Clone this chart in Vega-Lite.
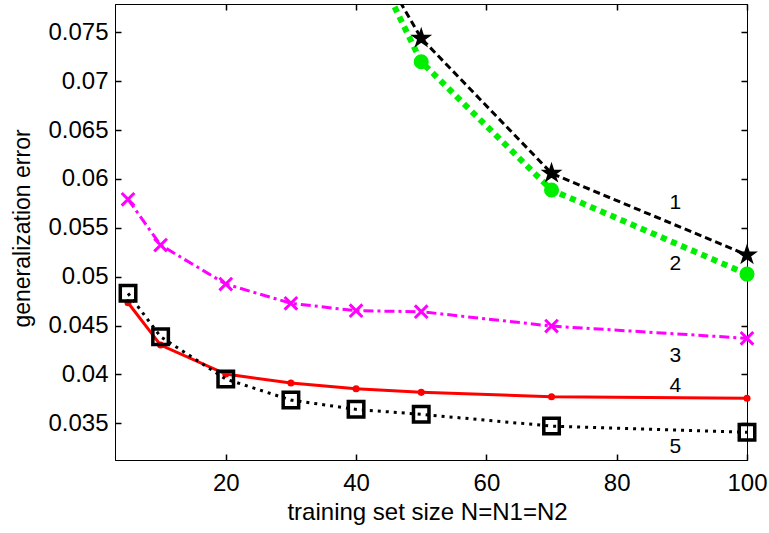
{
  "$schema": "https://vega.github.io/schema/vega-lite/v6.json",
  "width": 632,
  "height": 456,
  "autosize": {"type": "none"},
  "padding": {"left": 115, "top": 4, "right": 22, "bottom": 73},
  "background": "white",
  "config": {
    "view": {"stroke": "black", "strokeWidth": 1},
    "axis": {
      "domainColor": "black",
      "labelColor": "black",
      "labelFont": "Liberation Sans",
      "labelFontSize": 24,
      "labelFlush": false,
      "labelOverlap": false,
      "titleColor": "black",
      "titleFont": "Liberation Sans",
      "titleFontWeight": "normal"
    }
  },
  "datasets": {
    "curves": [
      {"s": "1", "x": 40, "y": 0.0859},
      {"s": "1", "x": 50, "y": 0.07439},
      {"s": "1", "x": 70, "y": 0.06058},
      {"s": "1", "x": 100, "y": 0.05222},
      {"s": "2", "x": 40, "y": 0.0857},
      {"s": "2", "x": 50, "y": 0.07199},
      {"s": "2", "x": 70, "y": 0.05887},
      {"s": "2", "x": 100, "y": 0.05027},
      {"s": "3", "x": 5, "y": 0.05792},
      {"s": "3", "x": 10, "y": 0.05324},
      {"s": "3", "x": 20, "y": 0.04925},
      {"s": "3", "x": 30, "y": 0.04728},
      {"s": "3", "x": 40, "y": 0.04652},
      {"s": "3", "x": 50, "y": 0.04642},
      {"s": "3", "x": 70, "y": 0.04495},
      {"s": "3", "x": 100, "y": 0.0437},
      {"s": "4", "x": 5, "y": 0.04734},
      {"s": "4", "x": 10, "y": 0.04301},
      {"s": "4", "x": 20, "y": 0.04004},
      {"s": "4", "x": 30, "y": 0.03912},
      {"s": "4", "x": 40, "y": 0.03854},
      {"s": "4", "x": 50, "y": 0.03817},
      {"s": "4", "x": 70, "y": 0.03772},
      {"s": "4", "x": 100, "y": 0.03756},
      {"s": "5", "x": 5, "y": 0.0483},
      {"s": "5", "x": 10, "y": 0.04386},
      {"s": "5", "x": 20, "y": 0.03953},
      {"s": "5", "x": 30, "y": 0.03738},
      {"s": "5", "x": 40, "y": 0.03643},
      {"s": "5", "x": 50, "y": 0.03592},
      {"s": "5", "x": 70, "y": 0.03472},
      {"s": "5", "x": 100, "y": 0.03408}
    ],
    "labels": [
      {"x": 89, "y": 0.05754, "t": "1"},
      {"x": 89, "y": 0.05135, "t": "2"},
      {"x": 89, "y": 0.04191, "t": "3"},
      {"x": 89, "y": 0.03882, "t": "4"},
      {"x": 89, "y": 0.03261, "t": "5"}
    ]
  },
  "data": {"name": "curves"},
  "layer": [
    {
      "transform": [{"filter": "datum.s === '2'"}],
      "mark": {"type": "line", "clip": true, "color": "#00ee00", "strokeWidth": 6, "strokeDash": [6, 5], "strokeCap": "butt"},
      "encoding": {
        "x": {"field": "x", "type": "quantitative", "scale": {"domain": [3, 100], "nice": false, "zero": false},
          "axis": {"orient": "bottom", "values": [20, 40, 60, 80, 100], "ticks": false, "grid": true, "gridColor": "black", "gridOpacity": 1, "gridWidth": 1.5, "gridDash": [6, 3000], "labelPadding": 11, "title": "training set size N=N1=N2", "titleFontSize": 24, "titleBaseline": "alphabetic", "titleY": 59, "titleX": 312}},
        "y": {"field": "y", "type": "quantitative", "scale": {"domain": [0.03125, 0.0779], "nice": false, "zero": false},
          "axis": {"orient": "left", "values": [0.035, 0.04, 0.045, 0.05, 0.055, 0.06, 0.065, 0.07, 0.075], "ticks": false, "grid": true, "gridColor": "black", "gridOpacity": 1, "gridWidth": 1.5, "gridDash": [6, 3000], "format": ".3~f", "labelPadding": 7, "title": "generalization error", "titleFontSize": 23, "titleBaseline": "alphabetic", "titleX": -85.5, "titleY": 224}}
      }
    },
    {
      "transform": [{"filter": "datum.s === '2' && datum.x > 40"}],
      "mark": {"type": "point", "clip": false, "shape": "circle", "filled": true, "color": "#00ee00", "size": 227, "opacity": 1},
      "encoding": {
        "x": {"field": "x", "type": "quantitative", "axis": {"orient": "top", "values": [20, 40, 60, 80, 100], "ticks": false, "grid": true, "gridColor": "black", "gridOpacity": 1, "gridWidth": 1.5, "gridDash": [6, 3000], "labels": false, "title": null}},
        "y": {"field": "y", "type": "quantitative", "axis": {"orient": "right", "values": [0.035, 0.04, 0.045, 0.05, 0.055, 0.06, 0.065, 0.07, 0.075], "ticks": false, "grid": true, "gridColor": "black", "gridOpacity": 1, "gridWidth": 1.5, "gridDash": [6, 3000], "labels": false, "title": null}}
      }
    },
    {
      "transform": [{"filter": "datum.s === '1'"}],
      "mark": {"type": "line", "clip": true, "color": "black", "strokeWidth": 3, "strokeDash": [7, 4]},
      "encoding": {
        "x": {"field": "x", "type": "quantitative", "axis": null},
        "y": {"field": "y", "type": "quantitative", "axis": null}
      }
    },
    {
      "transform": [{"filter": "datum.s === '1' && datum.x > 40"}],
      "mark": {"type": "point", "clip": false, "shape": "M0,-1L0.2245,-0.309L0.951,-0.309L0.363,0.118L0.588,0.809L0,0.382L-0.588,0.809L-0.363,0.118L-0.951,-0.309L-0.2245,-0.309Z", "filled": true, "fill": "black", "stroke": "black", "strokeWidth": 1.5, "size": 330, "opacity": 1},
      "encoding": {
        "x": {"field": "x", "type": "quantitative", "axis": null},
        "y": {"field": "y", "type": "quantitative", "axis": null}
      }
    },
    {
      "transform": [{"filter": "datum.s === '3'"}],
      "mark": {"type": "line", "clip": true, "color": "#ff00ff", "strokeWidth": 3, "strokeDash": [10, 4, 3, 4]},
      "encoding": {
        "x": {"field": "x", "type": "quantitative", "axis": null},
        "y": {"field": "y", "type": "quantitative", "axis": null}
      }
    },
    {
      "transform": [{"filter": "datum.s === '3'"}],
      "mark": {"type": "point", "clip": false, "shape": "M-1,-1L1,1M-1,1L1,-1", "filled": false, "stroke": "#ff00ff", "strokeWidth": 3, "size": 160, "opacity": 1},
      "encoding": {
        "x": {"field": "x", "type": "quantitative", "axis": null},
        "y": {"field": "y", "type": "quantitative", "axis": null}
      }
    },
    {
      "transform": [{"filter": "datum.s === '4'"}],
      "mark": {"type": "line", "clip": true, "color": "#ff0000", "strokeWidth": 3},
      "encoding": {
        "x": {"field": "x", "type": "quantitative", "axis": null},
        "y": {"field": "y", "type": "quantitative", "axis": null}
      }
    },
    {
      "transform": [{"filter": "datum.s === '4'"}],
      "mark": {"type": "point", "clip": false, "shape": "circle", "filled": true, "color": "#ff0000", "size": 50, "opacity": 1},
      "encoding": {
        "x": {"field": "x", "type": "quantitative", "axis": null},
        "y": {"field": "y", "type": "quantitative", "axis": null}
      }
    },
    {
      "transform": [{"filter": "datum.s === '5'"}],
      "mark": {"type": "line", "clip": true, "color": "black", "strokeWidth": 3, "strokeDash": [3, 5]},
      "encoding": {
        "x": {"field": "x", "type": "quantitative", "axis": null},
        "y": {"field": "y", "type": "quantitative", "axis": null}
      }
    },
    {
      "transform": [{"filter": "datum.s === '5'"}],
      "mark": {"type": "point", "clip": false, "shape": "square", "filled": false, "stroke": "black", "strokeWidth": 3.5, "size": 240, "opacity": 1},
      "encoding": {
        "x": {"field": "x", "type": "quantitative", "axis": null},
        "y": {"field": "y", "type": "quantitative", "axis": null}
      }
    },
    {
      "data": {"name": "labels"},
      "mark": {"type": "text", "font": "Liberation Sans", "fontSize": 21, "color": "black", "align": "center", "baseline": "middle"},
      "encoding": {
        "x": {"field": "x", "type": "quantitative", "axis": null},
        "y": {"field": "y", "type": "quantitative", "axis": null},
        "text": {"field": "t", "type": "nominal"}
      }
    }
  ],
  "resolve": {"axis": {"x": "independent", "y": "independent"}}
}
